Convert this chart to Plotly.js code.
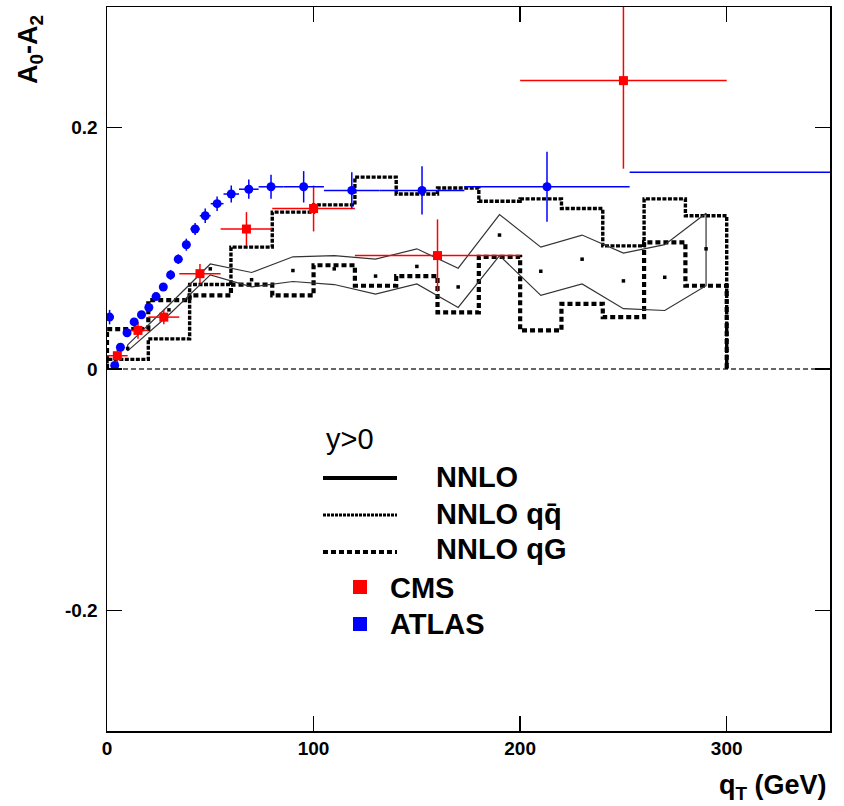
<!DOCTYPE html>
<html><head><meta charset="utf-8">
<script src="https://cdn.plot.ly/plotly-3.0.1.min.js"></script>
<style>html,body{margin:0;padding:0;background:#fff}#plot{width:844px;height:806px}</style>
</head><body><div id="plot"></div>
<script>
// ---- NNLO qqbar and qG histograms ----
const histEdges = [0,20,40,60,80,100,120,140,160,180,200,220,240,260,280,300];
const qqbarVals = [0.008,0.025,0.070,0.101,0.130,0.136,0.159,0.145,0.150,0.139,0.141,0.133,0.102,0.141,0.127];
const qgVals    = [0.033,0.057,0.061,0.070,0.061,0.086,0.069,0.077,0.047,0.093,0.032,0.054,0.043,0.105,0.069];

// ---- NNLO band (upper / lower / central) ----
const nnloX  = [10,30,50,70,90,110,130,150,170,190,210,230,250,270,290];
const nnloUp = [0.020,0.053,0.087,0.080,0.093,0.094,0.091,0.0996,0.0835,0.128,0.101,0.111,0.096,0.103,0.129];
const nnloLo = [0.015,0.045,0.078,0.068,0.0725,0.070,0.062,0.0705,0.051,0.094,0.061,0.0705,0.050,0.0485,0.069];
const nnloC  = [0.017,0.049,0.083,0.074,0.0816,0.083,0.077,0.085,0.068,0.111,0.081,0.091,0.073,0.076,0.0996];

// ---- CMS ----
const cmsX   = [5,15,27.5,45,67.5,100,160,250];
const cmsLo  = [0,10,20,35,55,80,120,200];
const cmsHi  = [10,20,35,55,80,120,200,300];
const cmsY   = [0.011,0.032,0.043,0.079,0.116,0.133,0.094,0.239];
const cmsErr = [0.006,0.007,0.006,0.008,0.014,0.019,0.030,0.073];

// ---- ATLAS ----
const atlasX   = [1.25,3.75,6.5,9.7,13.15,16.7,20.25,23.75,27.25,30.8,34.5,38.4,42.65,47.55,53.3,60.15,68.65,79.4,95.2,118.5,152.5,213,426.5];
const atlasLo  = [0,2.5,5,8,11.4,14.9,18.5,22,25.5,29,32.6,36.4,40.4,44.9,50.2,56.4,63.9,73.4,85.4,105,132,173,253];
const atlasHi  = [2.5,5,8,11.4,14.9,18.5,22,25.5,29,32.6,36.4,40.4,44.9,50.2,56.4,63.9,73.4,85.4,105,132,173,253,600];
const atlasY   = [0.043,0.003,0.018,0.030,0.039,0.045,0.051,0.060,0.068,0.078,0.091,0.103,0.116,0.127,0.137,0.145,0.149,0.151,0.151,0.148,0.148,0.151,0.163];
const atlasErr = [0.006,0.003,0.003,0.003,0.003,0.003,0.003,0.003,0.003,0.004,0.004,0.005,0.005,0.006,0.006,0.007,0.008,0.010,0.013,0.015,0.020,0.029,0.050];

// axis ticks
const xTicks = [0,100,200,300];
const yTickVals = [-0.2,0,0.2];
const yTickText = ['-0.2','0','0.2'];

function histXY(edges, vals){
  const x=[edges[0]], y=[0];
  for(let i=0;i<vals.length;i++){ x.push(edges[i]); y.push(vals[i]); }
  x.push(edges[edges.length-1]); y.push(vals[vals.length-1]);
  x.push(edges[edges.length-1]); y.push(0);
  return {x,y};
}
const hq = histXY(histEdges, qqbarVals);
const hg = histXY(histEdges, qgVals);

const bandX = nnloX.concat(nnloX.slice().reverse(), [nnloX[0]]);
const bandY = nnloUp.concat(nnloLo.slice().reverse(), [nnloUp[0]]);

const traces = [
  {x:[0,350], y:[0,0], mode:'lines', line:{color:'#333', width:1.5, dash:'5px,3px'}, hoverinfo:'skip'},
  {x:hg.x, y:hg.y, mode:'lines', line:{shape:'hv', color:'#000', width:4.2, dash:'5px,3px'}},
  {x:hq.x, y:hq.y, mode:'lines', line:{shape:'hv', color:'#000', width:3.4, dash:'4px,1.5px'}},
  {x:bandX, y:bandY, mode:'lines', line:{color:'#333', width:1.2}},
  {x:nnloX, y:nnloC, mode:'markers', marker:{symbol:'square', size:3.5, color:'#000'}},
  {x:cmsX, y:cmsY, mode:'markers', marker:{symbol:'square', size:9, color:'#ff0000'},
   error_x:{type:'data', symmetric:false, array:cmsHi.map((h,i)=>h-cmsX[i]), arrayminus:cmsLo.map((l,i)=>cmsX[i]-l), color:'#ff0000', thickness:1.5, width:0},
   error_y:{type:'data', array:cmsErr, color:'#ff0000', thickness:1.5, width:0}},
  {x:atlasX, y:atlasY, mode:'markers', marker:{symbol:'circle', size:9, color:'#0000ff'},
   error_x:{type:'data', symmetric:false, array:atlasHi.map((h,i)=>h-atlasX[i]), arrayminus:atlasLo.map((l,i)=>atlasX[i]-l), color:'#0000ff', thickness:1.5, width:0},
   error_y:{type:'data', array:atlasErr, color:'#0000ff', thickness:1.5, width:0}}
];

const L=107, R=830, T=7, B=731;
const px = v => (v-L)/(R-L);
const py = v => (B-v)/(B-T);
const fontFam = 'Liberation Sans, Arial, sans-serif';

const shapes = [
  {type:'line', xref:'paper', yref:'paper', x0:px(323), x1:px(397), y0:py(478), y1:py(478), line:{color:'#000', width:4}},
  {type:'line', xref:'paper', yref:'paper', x0:px(323), x1:px(397), y0:py(515), y1:py(515), line:{color:'#000', width:3, dash:'3px,1px'}},
  {type:'line', xref:'paper', yref:'paper', x0:px(323), x1:px(397), y0:py(552), y1:py(552), line:{color:'#000', width:4, dash:'5px,3px'}},
  {type:'rect', xref:'paper', yref:'paper', x0:px(353), x1:px(367), y0:py(594), y1:py(580), fillcolor:'#ff0000', line:{width:0}},
  {type:'rect', xref:'paper', yref:'paper', x0:px(353), x1:px(367), y0:py(631), y1:py(617), fillcolor:'#0000ff', line:{width:0}}
];

const ann = (text, x, y, size, extra) => Object.assign({text, xref:'paper', yref:'paper', x, y, showarrow:false,
  xanchor:'left', yanchor:'middle', font:{family:fontFam, size, color:'#000'}}, extra||{});

const annotations = [
  ann('y>0', px(324), py(439), 29),
  ann('<b>NNLO</b>', px(434), py(477), 29),
  ann('<b>NNLO qq\u0304</b>', px(434), py(514), 29),
  ann('<b>NNLO qG</b>', px(434), py(549), 29),
  ann('<b>CMS</b>', px(388), py(588), 29),
  ann('<b>ATLAS</b>', px(388), py(624), 29),
  ann('<b>q<sub>T</sub> (GeV)</b>', px(829), py(787), 27, {xanchor:'right'}),
  ann('<b>A<sub>0</sub>-A<sub>2</sub></b>', px(30), py(50), 27, {xanchor:'center', textangle:-90})
];

const axisCommon = {showgrid:false, zeroline:false, showline:true, mirror:'ticks', linecolor:'#000', linewidth:1.5,
  ticks:'inside', ticklen:15, tickwidth:1.5, tickcolor:'#000',
  tickfont:{family:fontFam, size:19, color:'#000', weight:'bold'}};

const layout = {
  width:844, height:806, margin:{l:L, r:844-R, t:T, b:806-B},
  paper_bgcolor:'#fff', plot_bgcolor:'#fff', showlegend:false,
  xaxis:Object.assign({}, axisCommon, {range:[0,350], tickvals:xTicks, ticktext:xTicks.map(String)}),
  yaxis:Object.assign({}, axisCommon, {range:[-0.3,0.3], tickvals:yTickVals, ticktext:yTickText, ticklabelstandoff:4}),
  shapes, annotations
};

Plotly.newPlot('plot', traces, layout, {staticPlot:true});
</script></body></html>
